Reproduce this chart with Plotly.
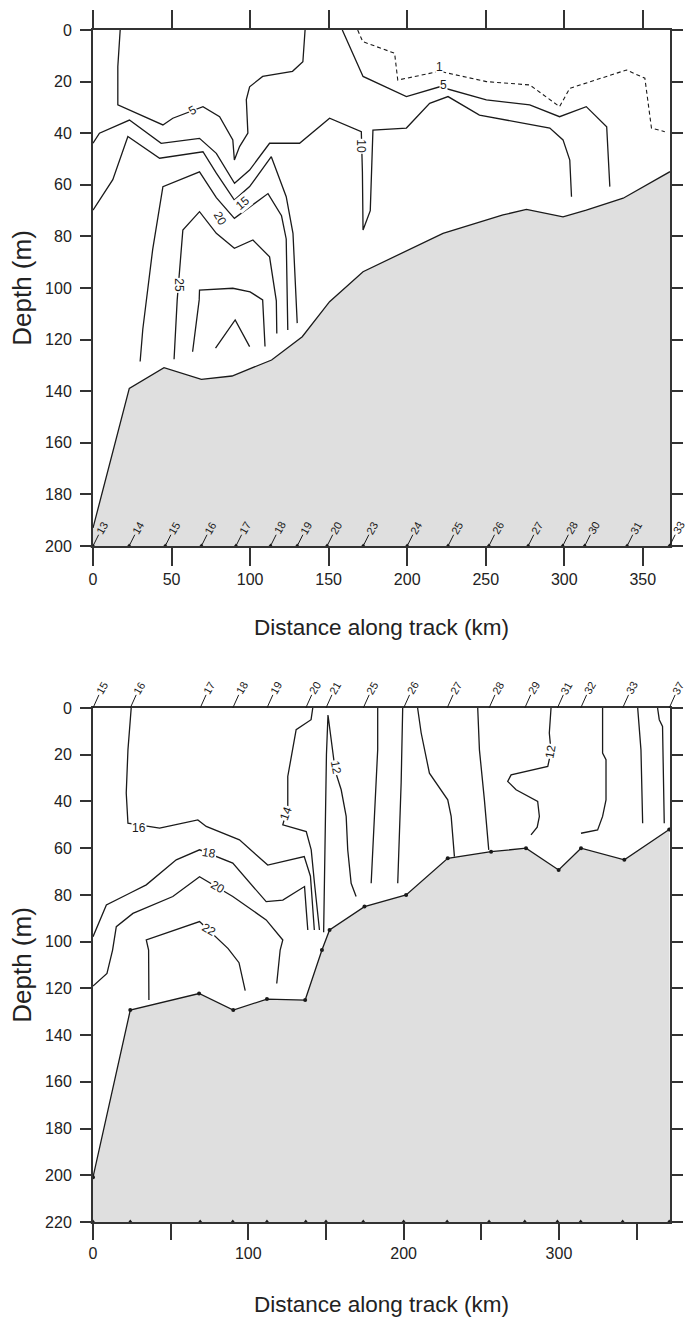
import plotly.graph_objects as go

# ---------------- TOP SECTION ----------------
top_x_max = 367.3
top_y_max = 200

top_bathy_km = [0, 23.1, 45.2, 69, 88.5, 113.7, 133.2, 150.6, 171.9, 222.8, 261, 275.9, 299.2, 314, 337.5, 367.3]
top_bathy_depth = [193, 138.9, 130.9, 135.4, 134.1, 127.9, 118.9, 105.3, 93.7, 78.8, 71.7, 69.5, 72.4, 69.8, 65.2, 54.9]

top_c1_km = [168.5, 171.7, 192, 194, 220.7, 250.4, 278, 297, 303.5, 339.6, 351.3, 355.5, 364]
top_c1_depth = [0, 4.5, 9, 19.4, 16, 20, 21.3, 29.7, 22.6, 15.5, 18.7, 38, 39.4]

top_c5a_km = [17.3, 15.8, 15.8, 44.5, 50.8, 70, 80.6, 89, 90, 93.3, 98.6, 97.6, 99.7, 108, 127, 133.6, 135]
top_c5a_depth = [0, 14.2, 29, 36.8, 34.2, 29.7, 33.6, 42.6, 50.4, 45.2, 40, 27, 22, 18, 16, 12.3, 0]

top_c5b_km = [158.7, 171.9, 199.5, 220.7, 250.4, 278, 297, 314, 327, 329]
top_c5b_depth = [0, 18, 25.8, 22, 27.1, 29, 33.6, 29.7, 37.5, 60.7]

top_c10_km = [0, 4.1, 23.2, 43.4, 67.8, 78.5, 90.1, 99.7, 112.4, 131.5, 150.6, 163.4, 170.8,
              171.5, 171.9, 176.5, 177.2, 178.2, 199.5, 214.3, 226, 246, 290.8, 299.2, 303.5, 304.6]
top_c10_depth = [43.9, 40, 34.9, 43.9, 42, 47.8, 59.4, 54.3, 43.9, 43.9, 34.2, 37.5, 39.4,
                 55, 77.5, 70, 55, 38.8, 38, 28.4, 25.8, 33, 38, 42.6, 50.4, 64.6]

top_c15_km = [0, 12.6, 22.2, 42.4, 70, 78.5, 90, 99.7, 113.5, 123, 127.3, 129.4, 130]
top_c15_depth = [69.8, 58, 41.3, 49.7, 47.2, 55.5, 65.9, 60.7, 49.1, 64.6, 78.8, 105, 113.6]

top_c20_km = [30, 31.7, 38, 44.5, 67.8, 78.5, 90, 99.7, 111.4, 120, 123, 124]
top_c20_depth = [128.5, 116, 85, 60.7, 55, 65, 73, 68.5, 63.4, 72, 81, 116.3]

top_c25_km = [51.6, 53.6, 57.2, 67.8, 78.5, 90, 101.8, 112.4, 116.7, 117]
top_c25_depth = [127.6, 104.6, 77.5, 70.4, 78.8, 84.6, 81.4, 87.9, 105, 117.6]

top_c30_km = [63.4, 67.6, 67.8, 89, 100, 108, 109.5]
top_c30_depth = [124.7, 104.6, 100.8, 100.1, 101.5, 104.6, 122.7]

top_c35_km = [78, 90.5, 99.7]
top_c35_depth = [123.3, 112.4, 122.7]

top_label_text = ["5", "1", "5", "10", "15", "20", "25"]
top_label_km = [63.6, 220.5, 222.8, 170.8, 95.4, 80.6, 55.1]
top_label_depth = [31, 14.5, 21.3, 45.2, 67.2, 73, 98.8]
top_label_angle = [-30, 0, 0, 90, -40, 60, 90]

top_station_km = [0, 23, 46, 69, 91, 113, 130, 149, 172, 200, 226, 252, 277, 299, 313, 340, 367]
top_station_names = ["13", "14", "15", "16", "17", "18", "19", "20", "23", "24", "25", "26",
                     "27", "28", "30", "31", "33"]

# ---------------- BOTTOM SECTION ----------------
bot_x_max = 371.5
bot_y_max = 220

bot_bathy_km = [0, 24, 68.3, 90.3, 112, 136.6, 147.4, 152.3, 174.8, 201.6, 228.4, 256.3, 278.8, 299.8, 314.2, 342.1, 371]
bot_bathy_depth = [200.8, 129.3, 122.2, 129.3, 124.6, 125, 103.6, 95, 85, 80, 64.3, 61.5, 60, 69.3, 60, 65, 52]

bot_c12a_km = [148.5, 149.3, 150.3, 151.3, 153.5, 156, 159.8, 163, 164, 166.2, 169.4]
bot_c12a_depth = [96, 60, 20, 3, 15, 27, 35, 46.4, 60.7, 75, 80.7]

bot_c14_km = [141.5, 140.4, 130.8, 128.6, 125.4, 125.4, 122.2, 137.3, 140.5, 142.6, 145.8]
bot_c14_depth = [0, 5, 9.3, 17.9, 29.3, 42.2, 50, 52.9, 60.7, 75, 95]

bot_c16_km = [24.6, 22.5, 21.4, 22.5, 42.9, 67.5, 72.9, 94.3, 112.5, 136, 140, 142.5]
bot_c16_depth = [0, 17.9, 36.4, 49.3, 51.4, 47.9, 50.7, 56.4, 67.2, 63.6, 72, 95]

bot_c18_km = [0, 8.6, 23.6, 34.3, 53.6, 68.6, 90, 111.5, 122.2, 136.2, 137.3, 138.3]
bot_c18_depth = [97.9, 84.3, 79.3, 75.7, 65, 60.7, 66.4, 82.9, 82.2, 76.4, 86.4, 95]

bot_c20_km = [0, 9, 12.6, 15, 25.7, 51.4, 68.6, 90, 111.5, 122.2, 120.5, 118.3]
bot_c20_depth = [119, 113.6, 103.6, 93.6, 87.9, 80.7, 72.2, 80.7, 90.7, 99.3, 103.6, 117.9]

bot_c22_km = [36, 35.8, 34.3, 68.6, 87, 94, 98]
bot_c22_depth = [125, 103.6, 99.3, 91.4, 103, 109, 121]

bot_r1_km = [183.3, 183.3, 181.2, 179.1]
bot_r1_depth = [0, 17.9, 46.4, 75]
bot_r2_km = [199.4, 198.4, 196.2]
bot_r2_depth = [0, 32, 75]
bot_r3_km = [209, 211.3, 216.6, 221, 228.4, 230.6, 232.7]
bot_r3_depth = [0, 10.7, 27.9, 32, 39.3, 46.4, 63.6]
bot_r4_km = [247.7, 248.8, 252, 254.8]
bot_r4_depth = [0, 17.9, 39.3, 60.7]
bot_r5_km = [294.9, 293.8, 294.9, 292.8, 269.2, 267, 272.4, 286.3, 287.4, 286, 282]
bot_r5_depth = [0, 10.7, 18.6, 25, 28.6, 31.4, 35, 40, 46.4, 51, 54.3]
bot_r6_km = [328.1, 328.1, 330.3, 330.3, 328.1, 324.9, 314.2]
bot_r6_depth = [0, 19.3, 22.1, 39.3, 46.4, 52.2, 53.6]
bot_r7_km = [350.7, 352.8, 353.9]
bot_r7_depth = [0, 17.9, 49.3]
bot_r8_km = [363.5, 364.6, 366.7, 367.8]
bot_r8_depth = [0, 5, 7.9, 49.3]

bot_label_text = ["16", "18", "20", "22", "14", "12", "12"]
bot_label_km = [29.5, 75, 80.4, 75, 124.4, 156.6, 294.9]
bot_label_depth = [51.4, 62.2, 76.5, 95, 45, 25.6, 18.6]
bot_label_angle = [0, 10, 30, 30, -70, 80, -80]

bot_station_km = [0, 24, 69, 90, 112, 137, 150, 174, 200, 228, 255, 278, 299, 314, 341, 371]
bot_station_names = ["15", "16", "17", "18", "19", "20", "21", "25", "26", "27", "28", "29",
                     "31", "32", "33", "37"]

# ---------------- FIGURE ----------------
FONT = "Liberation Sans, Arial, sans-serif"
LINE = "#1a1a1a"
FILL = "#dfdfdf"
AX = "#333333"

fig = go.Figure()


def add_line(xs, ys, xa, ya, dash="solid", width=1.3):
    fig.add_trace(go.Scatter(x=xs, y=ys, mode="lines", xaxis=xa, yaxis=ya,
                             line=dict(color=LINE, width=width, dash=dash),
                             hoverinfo="skip", showlegend=False))


# top bathymetry (filled)
fig.add_trace(go.Scatter(x=top_bathy_km + [top_x_max, 0], y=top_bathy_depth + [top_y_max, top_y_max],
                         mode="lines", fill="toself", fillcolor=FILL,
                         line=dict(color=FILL, width=0), xaxis="x", yaxis="y",
                         hoverinfo="skip", showlegend=False))
add_line(top_bathy_km, top_bathy_depth, "x", "y")

add_line(top_c1_km, top_c1_depth, "x", "y", dash="4px,3px", width=1.1)
for xs, ys in [(top_c5a_km, top_c5a_depth), (top_c5b_km, top_c5b_depth),
               (top_c10_km, top_c10_depth), (top_c15_km, top_c15_depth),
               (top_c20_km, top_c20_depth), (top_c25_km, top_c25_depth),
               (top_c30_km, top_c30_depth), (top_c35_km, top_c35_depth)]:
    add_line(xs, ys, "x", "y")

# bottom bathymetry
fig.add_trace(go.Scatter(x=bot_bathy_km + [bot_x_max, 0], y=bot_bathy_depth + [bot_y_max, bot_y_max],
                         mode="lines", fill="toself", fillcolor=FILL,
                         line=dict(color=FILL, width=0), xaxis="x2", yaxis="y2",
                         hoverinfo="skip", showlegend=False))
fig.add_trace(go.Scatter(x=bot_bathy_km, y=bot_bathy_depth, mode="lines+markers",
                         line=dict(color=LINE, width=1.3), marker=dict(size=4, color=LINE),
                         xaxis="x2", yaxis="y2", hoverinfo="skip", showlegend=False))
for xs, ys in [(bot_c12a_km, bot_c12a_depth), (bot_c14_km, bot_c14_depth),
               (bot_c16_km, bot_c16_depth), (bot_c18_km, bot_c18_depth),
               (bot_c20_km, bot_c20_depth), (bot_c22_km, bot_c22_depth),
               (bot_r1_km, bot_r1_depth), (bot_r2_km, bot_r2_depth),
               (bot_r3_km, bot_r3_depth), (bot_r4_km, bot_r4_depth),
               (bot_r5_km, bot_r5_depth), (bot_r6_km, bot_r6_depth),
               (bot_r7_km, bot_r7_depth), (bot_r8_km, bot_r8_depth)]:
    add_line(xs, ys, "x2", "y2")

# station markers
fig.add_trace(go.Scatter(x=top_station_km, y=[top_y_max] * len(top_station_km), mode="markers",
                         marker=dict(symbol="triangle-up", size=5, color=LINE),
                         xaxis="x", yaxis="y", cliponaxis=False, hoverinfo="skip", showlegend=False))
fig.add_trace(go.Scatter(x=bot_station_km, y=[bot_y_max] * len(bot_station_km), mode="markers",
                         marker=dict(symbol="triangle-up", size=5, color=LINE),
                         xaxis="x2", yaxis="y2", cliponaxis=False, hoverinfo="skip", showlegend=False))

annotations = []
for t, x, y, a in zip(top_label_text, top_label_km, top_label_depth, top_label_angle):
    annotations.append(dict(x=x, y=y, xref="x", yref="y", text=t, showarrow=False, textangle=a,
                            font=dict(family=FONT, size=12, color=LINE), bgcolor="white", borderpad=0))
for t, x, y, a in zip(bot_label_text, bot_label_km, bot_label_depth, bot_label_angle):
    annotations.append(dict(x=x, y=y, xref="x2", yref="y2", text=t, showarrow=False, textangle=a,
                            font=dict(family=FONT, size=12, color=LINE), bgcolor="white", borderpad=0))
for t, x in zip(top_station_names, top_station_km):
    annotations.append(dict(x=x, y=top_y_max, xref="x", yref="y", text=t, showarrow=True,
                            arrowhead=0, arrowwidth=1, arrowcolor=LINE, ax=9, ay=-18, textangle=-60,
                            font=dict(family=FONT, size=11, color=LINE)))
for t, x in zip(bot_station_names, bot_station_km):
    annotations.append(dict(x=x, y=0, xref="x2", yref="y2", text=t, showarrow=True,
                            arrowhead=0, arrowwidth=1, arrowcolor=LINE, ax=9, ay=-20, textangle=-60,
                            font=dict(family=FONT, size=11, color=LINE)))

xcommon = dict(showline=True, linewidth=2, linecolor=AX, ticks="outside", tickcolor=AX,
               tickwidth=2, showgrid=False, zeroline=False, automargin=False,
               tickfont=dict(family=FONT, size=16, color="#222"))
ycommon = dict(showline=True, linewidth=2, linecolor=AX, ticks="outside", tickcolor=AX,
               tickwidth=2, ticklen=11, showgrid=False, zeroline=False, mirror="ticks",
               automargin=False, ticklabelstandoff=5,
               tickfont=dict(family=FONT, size=16, color="#222"), dtick=20)

fig.update_layout(
    width=687, height=1317,
    margin=dict(l=93, r=17, t=30, b=95, autoexpand=False),
    paper_bgcolor="white", plot_bgcolor="white",
    showlegend=False,
    font=dict(family=FONT, color="#222"),
    xaxis=dict(xcommon, domain=[0, 1], anchor="y", range=[0, top_x_max], tickvals=list(range(0, 351, 50)),
               ticklen=18, mirror="ticks",
               title=dict(text="Distance along track (km)", font=dict(family=FONT, size=22.5), standoff=32)),
    yaxis=dict(ycommon, domain=[0.5671, 1], anchor="x", range=[top_y_max, 0],
               title=dict(text="Depth (m)", font=dict(family=FONT, size=26), standoff=6)),
    xaxis2=dict(xcommon, domain=[0, 1], anchor="y2", range=[0, bot_x_max], dtick=100, tick0=0,
                ticklen=16, mirror=True,
                minor=dict(dtick=50, ticks="outside", ticklen=16, tickcolor=AX, tickwidth=2),
                title=dict(text="Distance along track (km)", font=dict(family=FONT, size=22.5), standoff=36)),
    yaxis2=dict(ycommon, domain=[0, 0.4312], anchor="x2", range=[bot_y_max, 0],
                title=dict(text="Depth (m)", font=dict(family=FONT, size=26), standoff=6)),
    annotations=annotations,
)

fig.write_html("out.html", config={"displayModeBar": False},
               post_script="document.body.style.margin='0px';")
